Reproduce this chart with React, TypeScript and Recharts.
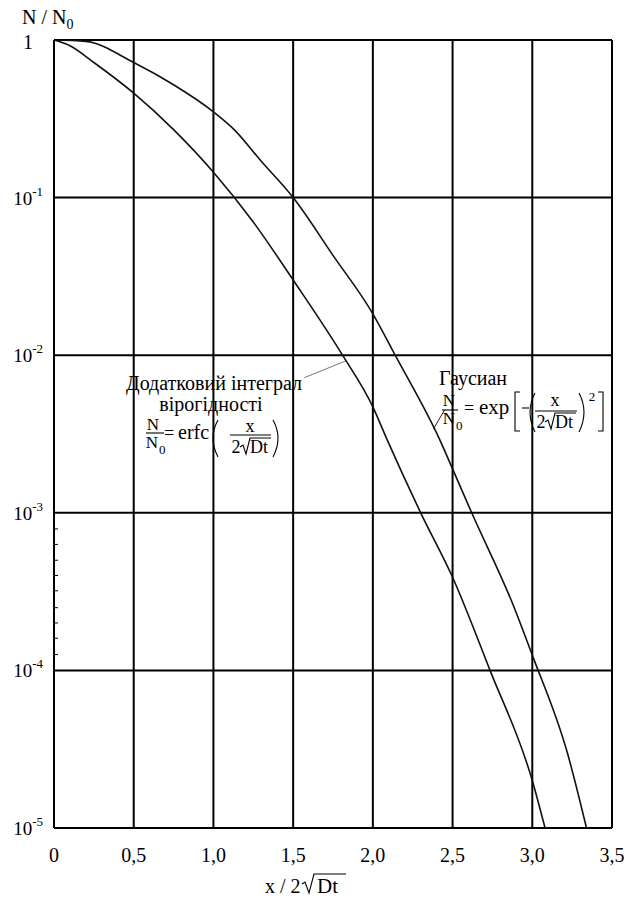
import { LineChart, Line, XAxis, YAxis, CartesianGrid, ReferenceLine } from 'recharts';

// x axis: x / 2√Dt
const X_TICKS = [0, 0.5, 1, 1.5, 2, 2.5, 3, 3.5];
const X_TICK_LABELS = ['0', '0,5', '1,0', '1,5', '2,0', '2,5', '3,0', '3,5'];

// y axis: N / N0, log scale
const Y_TICKS = [1, 1e-1, 1e-2, 1e-3, 1e-4, 1e-5];
const Y_TICK_EXPONENTS = ['', '-1', '-2', '-3', '-4', '-5'];

// small marks on the left axis between 10^-3 and 10^-4
const MINOR_TICKS = [7.9e-4, 6.3e-4, 5.0e-4, 4.0e-4, 3.2e-4, 2.5e-4, 2.0e-4, 1.6e-4, 1.26e-4];

// Гаусиан
const GAUSS_X = [0, 0.2, 0.5, 0.75, 1.0, 1.13, 1.3, 1.5, 1.75, 2.0, 2.14, 2.42, 2.5, 2.62, 2.88, 3.0, 3.22, 3.34];
const GAUSS_N = [1, 0.98, 0.72, 0.52, 0.35, 0.27, 0.17, 0.1, 0.043, 0.0183, 0.01, 0.0029, 0.0019, 0.001, 2.6e-4, 1.25e-4, 3.0e-5, 1.0e-5];

// додатковий інтеграл вірогідності
const ERFC_X = [0, 0.1, 0.25, 0.5, 0.75, 1.0, 1.25, 1.5, 1.81, 2.0, 2.09, 2.3, 2.5, 2.735, 3.0, 3.08];
const ERFC_N = [1, 0.92, 0.72, 0.46, 0.27, 0.145, 0.07, 0.03, 0.01, 0.0047, 0.0029, 0.001, 3.9e-4, 1.0e-4, 2.0e-5, 1.0e-5];

const gaussData = GAUSS_X.map((x, i) => ({ x, n: GAUSS_N[i] }));
const erfcData = ERFC_X.map((x, i) => ({ x, n: ERFC_N[i] }));

const FONT = '"Liberation Serif", "Times New Roman", serif';

function XTick({ x, payload }: any) {
  const i = X_TICKS.findIndex((t) => Math.abs(t - payload.value) < 1e-9);
  return (
    <text x={x} y={862} textAnchor="middle" fontFamily={FONT} fontSize={20} fill="#000">
      {X_TICK_LABELS[i]}
    </text>
  );
}

function YTick({ y, payload }: any) {
  const i = Y_TICKS.findIndex((t) => Math.abs(Math.log10(t) - Math.log10(payload.value)) < 1e-6);
  if (i === 0) {
    return (
      <text x={28} y={y + 9} textAnchor="middle" fontFamily={FONT} fontSize={20} fill="#000">
        1
      </text>
    );
  }
  return (
    <text x={43} y={y + 7} textAnchor="end" fontFamily={FONT} fontSize={19} fill="#000">
      10
      <tspan dy={-9} fontSize={13}>
        {Y_TICK_EXPONENTS[i]}
      </tspan>
    </text>
  );
}

function Annotations() {
  const t = { fontFamily: FONT, fill: '#000' };
  const s = { stroke: '#000', strokeWidth: 1.1, fill: 'none' };
  return (
    <svg
      width={627}
      height={902}
      style={{ position: 'absolute', left: 0, top: 0, pointerEvents: 'none' }}
    >
      {/* axis titles */}
      <text x={22} y={24} fontSize={20} {...t}>
        N / N
        <tspan dy={5} fontSize={14}>0</tspan>
      </text>
      <text x={265} y={893} fontSize={20} {...t}>x / 2</text>
      <path d="M302 884 L305 882 L309 893 L314 874 L346 874" {...s} />
      <text x={317} y={893} fontSize={21} {...t}>Dt</text>

      {/* erfc label */}
      <text x={214} y={390} fontSize={20} textAnchor="middle" {...t}>Додатковий інтеграл</text>
      <text x={211} y={411} fontSize={20} textAnchor="middle" {...t}>вірогідності</text>
      <text x={153} y={430} fontSize={17} textAnchor="middle" {...t}>N</text>
      <line x1={146} y1={433} x2={164} y2={433} {...s} />
      <text x={152} y={448} fontSize={17} textAnchor="middle" {...t}>N</text>
      <text x={159} y={454} fontSize={13} {...t}>0</text>
      <text x={164} y={439} fontSize={18} {...t}>=</text>
      <text x={178} y={439} fontSize={20} {...t}>erfc</text>
      <path d="M218 420 Q208 438 218 457" {...s} />
      <text x={250} y={432} fontSize={18} textAnchor="middle" {...t}>x</text>
      <line x1={230} y1={435} x2={271} y2={435} {...s} />
      <text x={236} y={453} fontSize={18} textAnchor="middle" {...t}>2</text>
      <path d="M240 447 L243 445 L246 454 L250 438 L271 438" {...s} />
      <text x={250} y={453} fontSize={18} {...t}>Dt</text>
      <path d="M273 420 Q283 438 273 457" {...s} />

      {/* gaussian label */}
      <text x={473} y={385} fontSize={20} textAnchor="middle" {...t}>Гаусиан</text>
      <text x={449} y={406} fontSize={17} textAnchor="middle" {...t}>N</text>
      <line x1={442} y1={410} x2={458} y2={410} {...s} />
      <text x={449} y={424} fontSize={17} textAnchor="middle" {...t}>N</text>
      <text x={456} y={430} fontSize={13} {...t}>0</text>
      <text x={464} y={414} fontSize={18} {...t}>=</text>
      <text x={479} y={414} fontSize={21} {...t}>exp</text>
      <path d="M520 392 L515 392 L515 431 L520 431" {...s} />
      <line x1={522} y1={408} x2={529} y2={408} {...s} />
      <path d="M535 393 Q525 412 535 432" {...s} />
      <text x={555} y={406} fontSize={18} textAnchor="middle" {...t}>x</text>
      <line x1={535} y1={411} x2={577} y2={411} {...s} />
      <text x={541} y={428} fontSize={18} textAnchor="middle" {...t}>2</text>
      <path d="M545 422 L548 420 L551 429 L555 413 L576 413" {...s} />
      <text x={555} y={428} fontSize={18} {...t}>Dt</text>
      <path d="M579 393 Q589 412 579 432" {...s} />
      <text x={592} y={401} fontSize={13} textAnchor="middle" {...t}>2</text>
      <path d="M598 392 L603 392 L603 431 L598 431" {...s} />
    </svg>
  );
}

export default function App() {
  return (
    <div style={{ position: 'relative', width: 627, height: 902, background: '#fff' }}>
      <style>{'body{margin:0;background:#fff}'}</style>
      <LineChart width={627} height={902} margin={{ top: 40, right: 15, bottom: 0, left: 0 }}>
        <CartesianGrid stroke="#000" strokeWidth={2} fill="none" />
        <XAxis
          dataKey="x"
          type="number"
          domain={[0, 3.5]}
          ticks={X_TICKS}
          interval={0}
          allowDataOverflow
          height={74}
          axisLine={{ stroke: '#000', strokeWidth: 2 }}
          tickLine={false}
          tick={<XTick />}
        />
        <YAxis
          type="number"
          scale="log"
          domain={[1e-5, 1]}
          ticks={Y_TICKS}
          interval={0}
          allowDataOverflow
          width={54}
          axisLine={{ stroke: '#000', strokeWidth: 2 }}
          tickLine={false}
          tick={<YTick />}
        />
        {MINOR_TICKS.map((v) => (
          <ReferenceLine
            key={v}
            segment={[{ x: 0, y: v }, { x: 0.025, y: v }]}
            stroke="#000"
            strokeWidth={1}
          />
        ))}
        {/* leader lines from the labels to the curves */}
        <ReferenceLine segment={[{ x: 1.57, y: 0.0072 }, { x: 1.83, y: 0.0092 }]} stroke="#777" strokeWidth={1} />
        <ReferenceLine segment={[{ x: 2.38, y: 0.0034 }, { x: 2.45, y: 0.0045 }]} stroke="#222" strokeWidth={1} />
        <Line
          data={erfcData}
          dataKey="n"
          type="monotone"
          stroke="#111"
          strokeWidth={1.6}
          dot={false}
          isAnimationActive={false}
        />
        <Line
          data={gaussData}
          dataKey="n"
          type="monotone"
          stroke="#111"
          strokeWidth={1.6}
          dot={false}
          isAnimationActive={false}
        />
      </LineChart>
      <Annotations />
    </div>
  );
}
